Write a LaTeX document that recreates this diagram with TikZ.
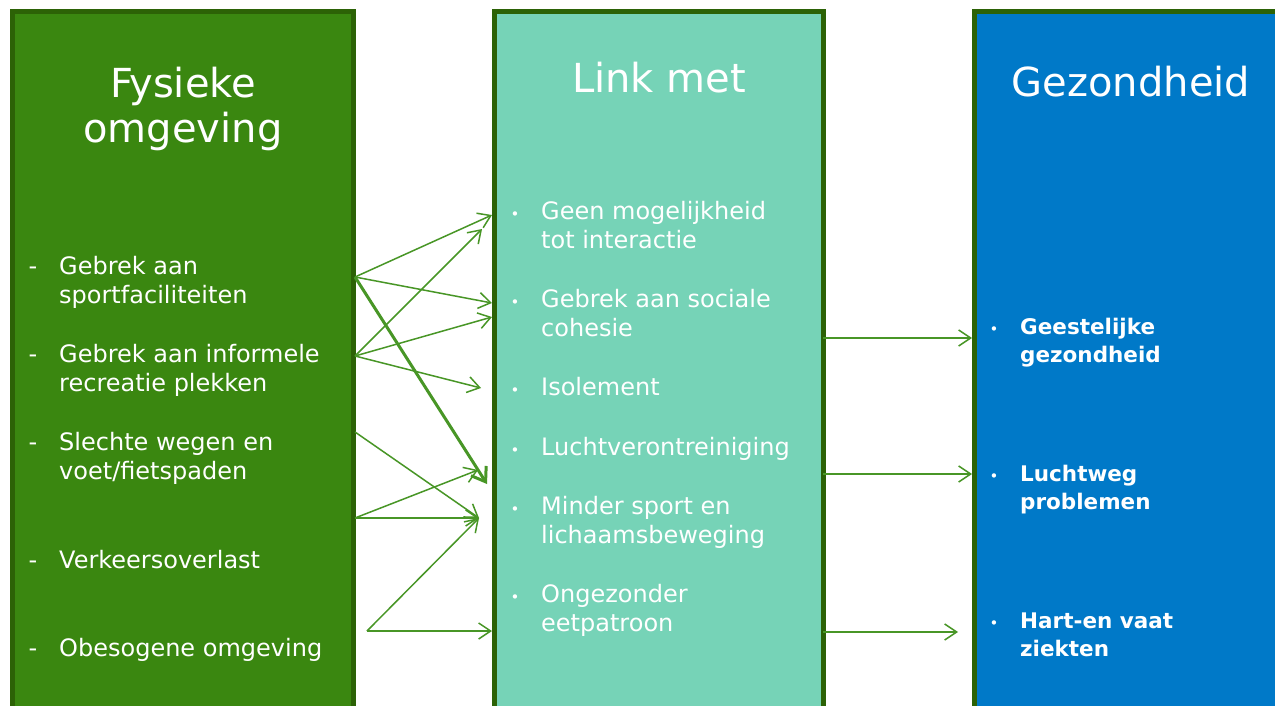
\documentclass[tikz,border=0pt]{standalone}
\usepackage{fontspec}
\setmainfont{DejaVu Sans}
\usetikzlibrary{arrows.meta}
\definecolor{fgreen}{RGB}{58,135,16}
\definecolor{bdark}{RGB}{44,98,6}
\definecolor{tealc}{RGB}{118,211,183}
\definecolor{bluec}{RGB}{0,121,200}
\definecolor{arr}{RGB}{72,150,38}
\begin{document}
\begin{tikzpicture}[x=1pt,y=-1pt,
  col/.style={draw=bdark,line width=5pt,inner sep=0pt,outer sep=0pt,anchor=north west},
  title/.style={text=white,font=\fontsize{40}{46}\selectfont,align=center,anchor=base,inner sep=0pt},
  item/.style={text=white,font=\fontsize{24}{29.5}\selectfont,align=left,anchor=base west,inner sep=0pt},
  bitem/.style={text=white,font=\fontsize{21.5}{28.5}\selectfont\bfseries,align=left,anchor=base west,inner sep=0pt},
  dashmark/.style={text=white,font=\fontsize{24}{29}\selectfont,anchor=base,inner sep=0pt},
  dotmark/.style={text=white,font=\fontsize{15}{20}\selectfont,anchor=base,inner sep=0pt},
  conn/.style={draw=arr,line width=1.5pt,-{Straight Barb[length=12pt,width=16pt,line width=1.5pt]}},
  thickconn/.style={draw=arr,line width=3pt,-{Straight Barb[length=13pt,width=18pt,line width=3pt]}},
]
\useasboundingbox (0,0) rectangle (1275,706);
\fill[white] (0,0) rectangle (1275,706);
% columns
\node[col,fill=fgreen,minimum width=341pt,minimum height=720pt] (g) at (12,12) {};
\node[col,fill=tealc,minimum width=329pt,minimum height=720pt] (t) at (494,12) {};
\node[col,fill=bluec,minimum width=320pt,minimum height=720pt] (b) at (974,12) {};
% titles (base = baseline of last line)
\node[title] (gt) at (183,143) {Fysieke\\omgeving};
\node[title] (tt) at (659,93) {Link met};
\node[title] (bt) at (1131,97) {Gezondheid};
% green items: \y first baseline, \z last baseline
\foreach \n/\y/\z/\txt in {g1/274/303.5/{Gebrek aan\\sportfaciliteiten},
                        g2/362/391.5/{Gebrek aan informele\\recreatie plekken},
                        g3/450/479.5/{Slechte wegen en\\voet/fietspaden},
                        g4/568/568/{Verkeersoverlast},
                        g5/656/656/{Obesogene omgeving}}{
  \node[dashmark] (\n d) at (33,\y) {-};
  \node[item] (\n) at (59,\z) {\txt};
}
% teal items
\foreach \n/\y/\z/\txt in {t1/219/248.5/{Geen mogelijkheid\\tot interactie},
                        t2/307/336.5/{Gebrek aan sociale\\cohesie},
                        t3/395/395/{Isolement},
                        t4/455/455/{Luchtverontreiniging},
                        t5/514/543.5/{Minder sport en\\lichaamsbeweging},
                        t6/602/631.5/{Ongezonder\\eetpatroon}}{
  \node[dotmark] (\n d) at (515,\y) {•};
  \node[item] (\n) at (541,\z) {\txt};
}
% blue items
\foreach \n/\y/\z/\txt in {b1/334/362.5/{Geestelijke\\gezondheid},
                        b2/481/509.5/{Luchtweg\\problemen},
                        b3/628/656.5/{Hart-en vaat\\ziekten}}{
  \node[dotmark] (\n d) at (994,\y) {•};
  \node[bitem] (\n) at (1020,\z) {\txt};
}
% connector ends
\coordinate (sA) at (355,277);
\coordinate (sB) at (355,356);
\coordinate (sC) at (355,432);
\coordinate (sD) at (355,518);
\coordinate (sE) at (367,631);
\coordinate (e1) at (492,215);
\coordinate (e2) at (492,303);
\coordinate (e3) at (482,229);
\coordinate (e4) at (492,317);
\coordinate (e5) at (481,388);
\coordinate (e6) at (487,484);
\coordinate (e7) at (479,518);
\coordinate (e8) at (478,470);
\coordinate (e9) at (492,631);
\coordinate (r1s) at (823,338);
\coordinate (r1e) at (972,338);
\coordinate (r2s) at (823,474);
\coordinate (r2e) at (972,474);
\coordinate (r3s) at (823,632);
\coordinate (r3e) at (958,632);
% connectors
\draw[conn] (sA) -- (e1);
\draw[conn] (sA) -- (e2);
\draw[thickconn] (sA) -- (e6);
\draw[conn] (sB) -- (e3);
\draw[conn] (sB) -- (e4);
\draw[conn] (sB) -- (e5);
\draw[conn] (sC) -- (e7);
\draw[conn] (sD) -- (e7);
\draw[conn] (sD) -- (e8);
\draw[conn] (sE) -- (e7);
\draw[conn] (sE) -- (e9);
\draw[conn] (r1s) -- (r1e);
\draw[conn] (r2s) -- (r2e);
\draw[conn] (r3s) -- (r3e);
\end{tikzpicture}
\end{document}
